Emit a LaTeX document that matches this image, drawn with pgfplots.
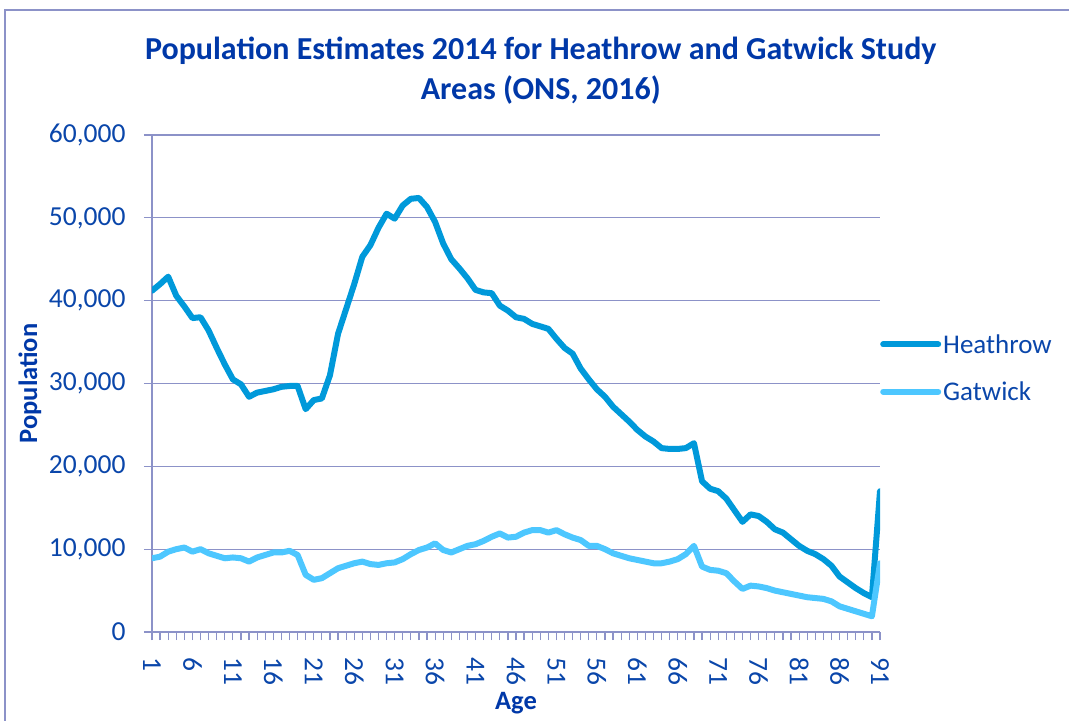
\documentclass[border=0pt]{standalone}
\usepackage{fontspec}
\setmainfont{Carlito}
\usepackage{pgfplots}
\usepackage{pgfplotstable}
\pgfplotsset{compat=1.18}

\definecolor{heath}{RGB}{0,153,218}
\definecolor{gat}{RGB}{77,199,255}
\definecolor{txt}{RGB}{10,70,170}
\definecolor{ttl}{RGB}{0,56,168}
\definecolor{gridc}{RGB}{140,146,200}

\pgfplotstableread{
age heathrow gatwick
1 41200 8900
2 42000 9100
3 42900 9700
4 40600 10000
5 39300 10200
6 37900 9700
7 38000 10000
8 36400 9500
9 34300 9200
10 32300 8900
11 30500 9000
12 29900 8900
13 28400 8500
14 28900 9000
15 29100 9300
16 29300 9600
17 29600 9600
18 29700 9800
19 29700 9300
20 26900 6900
21 28000 6300
22 28200 6500
23 31000 7100
24 36000 7700
25 39000 8000
26 42000 8300
27 45300 8500
28 46700 8200
29 48800 8100
30 50500 8300
31 49900 8400
32 51500 8800
33 52300 9400
34 52400 9900
35 51300 10200
36 49500 10700
37 46900 9900
38 45000 9600
39 43900 10000
40 42700 10400
41 41300 10600
42 41000 11000
43 40900 11500
44 39400 11900
45 38800 11400
46 38000 11500
47 37800 12000
48 37200 12300
49 36900 12300
50 36600 12000
51 35400 12300
52 34300 11800
53 33600 11400
54 31800 11100
55 30500 10400
56 29300 10400
57 28400 10000
58 27200 9500
59 26300 9200
60 25400 8900
61 24400 8700
62 23600 8500
63 23000 8300
64 22200 8300
65 22100 8500
66 22100 8800
67 22200 9400
68 22800 10400
69 18200 7900
70 17300 7500
71 17000 7400
72 16100 7100
73 14700 6100
74 13300 5200
75 14200 5600
76 14000 5500
77 13300 5300
78 12400 5000
79 12000 4800
80 11200 4600
81 10400 4400
82 9800 4200
83 9400 4100
84 8800 4000
85 8000 3700
86 6700 3100
87 6000 2800
88 5300 2500
89 4700 2200
90 4200 1900
91 17000 8300
}\poptable

\begin{document}
\begin{tikzpicture}
\path[use as bounding box] (0,0) rectangle (1069bp,-721bp);
\draw[gridc, line width=1.2bp] (5bp,-721bp) -- (5bp,-10bp) -- (1069bp,-10bp);
\begin{axis}[
  at={(152bp,-632bp)}, anchor=south west,
  scale only axis, width=728bp, height=497bp,
  xmin=1, xmax=91, ymin=0, ymax=60000,
  axis x line*=bottom, axis y line*=left,
  axis line style={gridc, line width=1.2bp, -},
  xtick={1,6,...,91}, minor xtick={1,...,91},
  ytick={0,10000,...,60000},
  tick align=outside,
  major tick length=8bp, minor tick length=8bp,
  every tick/.style={gridc, line width=1.2bp},
  ymajorgrids, grid style={gridc, line width=1.2bp},
  scaled y ticks=false,
  ticklabel style={font=\fontsize{27.5bp}{33bp}\selectfont, text=txt},
  yticklabel style={/pgf/number format/fixed, /pgf/number format/1000 sep={,},
    /pgf/number format/assume math mode=true, xshift=-15bp},
  xticklabel style={rotate=-90, anchor=west, xshift=14bp,
    /pgf/number format/assume math mode=true},
  title={Population Estimates 2014 for Heathrow and Gatwick Study\\Areas (ONS, 2016)},
  title style={align=center, font=\fontsize{32bp}{40bp}\selectfont\bfseries, text=ttl,
    at={(rel axis cs:0.534,1)}, anchor=center, yshift=58bp},
  xlabel={Age},
  xlabel style={font=\fontsize{26.5bp}{32bp}\selectfont\bfseries, text=ttl,
    at={(rel axis cs:0.5,0)}, anchor=center, yshift=-71bp},
  ylabel={Population},
  ylabel style={font=\fontsize{26.5bp}{32bp}\selectfont\bfseries, text=ttl,
    at={(rel axis cs:-0.1676,0.5)}, anchor=center},
  legend style={draw=none, fill=none, at={(rel axis cs:1.0,0.531)}, anchor=west,
    font=\fontsize{27bp}{32bp}\selectfont, text=txt, row sep=23bp,
    inner xsep=0bp},
  legend cell align=left,
  legend image code/.code={\draw[#1, line width=6bp, line cap=round] (0bp,0bp) -- (55bp,0bp);},
]
\addplot[heath, line width=6bp, line cap=round, line join=round] table[x=age, y=heathrow] {\poptable};
\addlegendentry{Heathrow}
\addplot[gat, line width=6bp, line cap=round, line join=round] table[x=age, y=gatwick] {\poptable};
\addlegendentry{Gatwick}
\end{axis}
\end{tikzpicture}
\end{document}
